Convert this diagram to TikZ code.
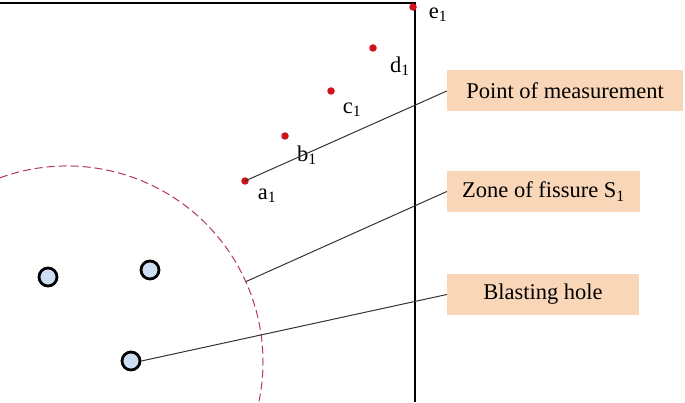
\documentclass[tikz,border=0pt]{standalone}
\usepackage{fontspec}
\setmainfont{Liberation Serif}
\usepackage{tikz}
\usetikzlibrary{calc}
\definecolor{boxpeach}{HTML}{F9D6B8}
\definecolor{holeblue}{HTML}{CCDDF1}
\definecolor{dotred}{HTML}{D0121B}
\definecolor{zonered}{HTML}{B2385A}
\definecolor{leadgray}{HTML}{333333}

\begin{document}
\begin{tikzpicture}[x=1pt, y=1pt,
  labelbox/.style={fill=boxpeach, draw=none, minimum height=41pt, align=center,
                   inner sep=0pt, font=\fontsize{22.5}{26}\selectfont},
  hole/.style={circle, draw=black, line width=2.8pt, fill=holeblue, minimum size=18pt, inner sep=0pt},
  mpoint/.style={circle, fill=dotred, minimum size=7.5pt, inner sep=0pt},
  ptlabel/.style={font=\fontsize{22.5}{26}\selectfont, inner sep=0pt},
  lead/.style={leadgray, line width=1pt},
  wall/.style={black, line width=2.8pt}
]
\useasboundingbox (0,0) rectangle (685,402);

% free face
\draw[wall] (0,399) -- (415,399) -- (415,0);

% fissure zone
\coordinate (zc) at (67,40);
\draw[zonered, line width=1pt, dash pattern=on 8pt off 4pt]
  ($(zc)+(110:196)$) arc[start angle=110, end angle=-12, radius=196];
\coordinate (zpt) at ($(zc)+(24.2:196)$);

% blasting holes
\node[hole] (h1) at (48,125) {};
\node[hole] (h2) at (150,132) {};
\node[hole] (h3) at (131,41) {};

% measuring points
\node[mpoint] (a) at (245,221) {};
\node[mpoint] (b) at (285,266) {};
\node[mpoint] (c) at (331,311) {};
\node[mpoint] (d) at (373,354) {};
\node[mpoint] (e) at (413,395) {};
\node[ptlabel] (la) at (267,206) {a\textsubscript{1}};
\node[ptlabel] (lb) at (307,247) {b\textsubscript{1}};
\node[ptlabel] (lc) at (352,292) {c\textsubscript{1}};
\node[ptlabel] (ld) at (400,336) {d\textsubscript{1}};
\node[ptlabel] (le) at (438,387) {e\textsubscript{1}};

% legend boxes
\node[labelbox, minimum width=236pt] (meas) at (565,311) {Point of measurement};
\node[labelbox, minimum width=193pt] (zone) at (543.5,210.5) {Zone of fissure S\textsubscript{1}};
\node[labelbox, minimum width=192pt] (blast) at (543,107.5) {Blasting hole};

\draw[lead] (a.center) -- (meas.west);
\draw[lead] (zpt) -- (zone.west);
\draw[lead] (h3.east) -- (blast.west);
\end{tikzpicture}
\end{document}
